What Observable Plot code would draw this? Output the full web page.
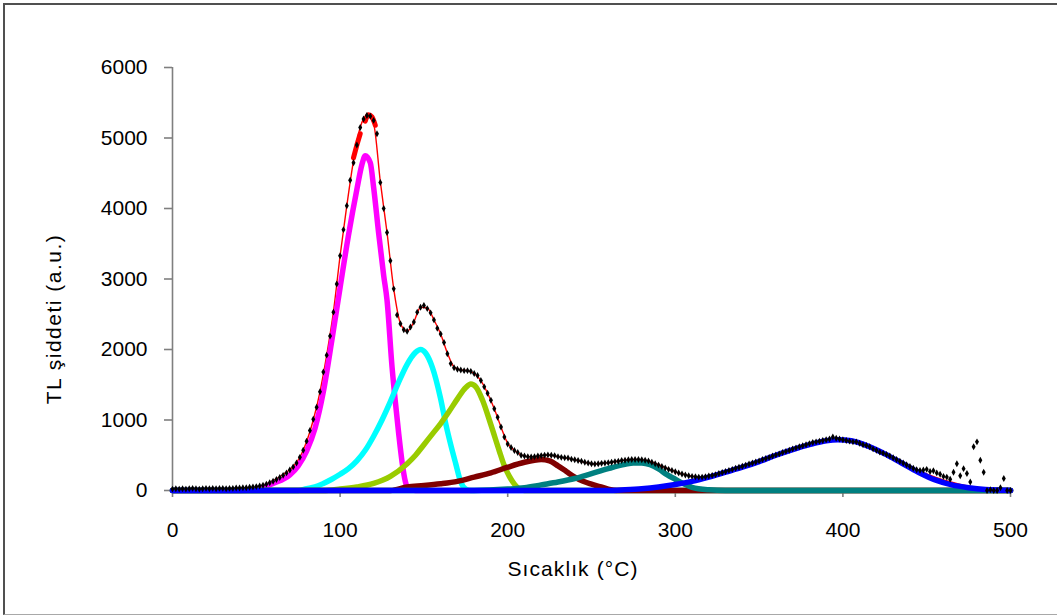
<!DOCTYPE html>
<html>
<head>
<meta charset="utf-8">
<script src="https://cdn.jsdelivr.net/npm/d3@7"></script>
<script src="https://cdn.jsdelivr.net/npm/@observablehq/plot@0.6"></script>
<style>
html, body { margin: 0; padding: 0; background: #fff; }
#chart { position: relative; width: 1057px; height: 616px; overflow: hidden; }
#frame { position: absolute; left: 3px; top: 3px; width: 1070px; height: 612px; box-sizing: border-box;
  border-left: 2px solid #505050; border-top: 2px solid #505050; border-bottom: 1.5px solid #a8a8a8; pointer-events: none; }
</style>
</head>
<body>
<div id="chart"><div id="frame"></div></div>
<script>
// ---- text ----
const xLabel = "Sıcaklık (°C)";
const yLabel = "TL şiddeti (a.u.)";
const xTicks = [0, 100, 200, 300, 400, 500];
const yTicks = [0, 1000, 2000, 3000, 4000, 5000, 6000];

// ---- measured glow curve (every 2 °C, 0..500) ----
const measT = d3.range(0, 501, 2);
const measV = [
  20,25,20,25,20,25,30,25,20,25,
  30,25,30,25,30,30,25,30,30,35,
  35,40,40,45,50,55,65,75,90,110,
  130,155,185,215,250,290,335,390,470,570,
  700,850,1010,1180,1400,1680,1920,2190,2530,2930,
  3330,3700,4040,4400,4650,4900,5150,5270,5320,5310,
  5250,5060,4370,4000,3660,3260,2860,2490,2364,2280,
  2260,2320,2390,2530,2600,2624,2580,2520,2420,2300,
  2220,2100,1940,1800,1740,1720,1710,1700,1700,1690,
  1660,1630,1560,1470,1380,1280,1160,1040,900,760,
  660,610,567,540,500,490,480,475,480,490,
  495,500,505,500,495,480,470,465,460,445,
  435,425,415,400,390,380,375,380,385,390,
  395,400,410,415,425,430,435,440,440,440,
  435,430,420,400,380,360,340,320,300,285,
  265,250,235,220,210,200,195,190,190,195,
  205,215,225,240,255,270,285,300,315,330,
  345,360,375,390,405,420,440,455,470,490,
  505,520,540,555,570,590,605,620,635,650,
  665,680,690,700,710,720,730,760,740,730,
  720,710,700,690,690,670,650,640,620,590,
  570,545,530,510,490,465,440,415,390,365,
  340,315,295,285,290,300,270,280,250,230,
  200,190,160,260,380,210,310,240,120,620,
  690,430,260,0,10,0,0,40,170,0,
  0
];

// ---- total fit (red) ----
const fitT = [0,40,44,48,52,56,60,64,68,72,76,80,84,88,92,96,100,104,108,112,116,120,124,128,132,136,140,144,148,152,156,160,164,168,172,176,180,184,188,192,196,200,204,208,212,216,220,224,228,232,236,240,244,248,252,256,260,264,268,272,276,280,284,288,292,296,300,304,308,312,316,320,330,340,360,380,400,420,440,460,480,500];
const fitV = [0,10,20,35,60,95,140,195,260,340,470,690,1000,1400,1920,2530,3330,4040,4680,5150,5320,5200,4380,3660,2860,2370,2260,2390,2600,2590,2420,2220,1950,1750,1710,1700,1660,1560,1380,1160,900,670,570,505,480,480,495,505,490,470,455,435,410,390,378,385,395,410,425,435,440,435,420,385,345,305,265,235,210,195,190,200,270,345,505,660,715,575,335,150,40,0];
// thick red fit segments near the main maximum
const fitThickAT = [108, 110, 112];
const fitThickAV = [4720, 4900, 5060];
const fitThickBT = [115, 117, 119, 121];
const fitThickBV = [5240, 5330, 5300, 5180];

// ---- deconvoluted components ----
const magentaT = [0,40,50,60,70,75,80,85,90,95,100,105,110,113,115,118,120,123,126,128,131,133,135,137,139,141,145,500];
const magentaV = [0,0,15,100,220,350,560,880,1400,2120,2880,3620,4270,4620,4750,4650,4300,3650,3050,2700,1750,1250,800,400,120,20,0,0];
const cyanT = [0,75,80,85,90,95,100,105,110,115,120,125,130,135,140,145,148,151,155,160,163,166,169,172,175,178,500];
const cyanV = [0,0,25,50,100,160,230,310,420,570,770,1000,1260,1540,1790,1960,2000,1950,1750,1300,950,650,380,120,20,0,0];
const greenT = [0,90,100,110,120,130,140,145,150,155,160,165,170,175,178,181,185,190,195,198,201,204,207,210,500];
const greenV = [0,0,20,50,100,200,380,500,650,800,950,1120,1300,1460,1510,1470,1280,930,560,350,200,90,20,0,0];
const maroonT = [0,130,140,150,160,170,180,190,200,210,215,220,225,230,235,240,245,250,255,260,265,500];
const maroonV = [0,0,50,70,95,130,190,250,330,400,425,440,420,350,270,190,130,90,55,20,0,0];
const tealT = [0,180,200,210,220,230,240,250,260,270,275,280,285,290,295,300,305,310,320,330,500];
const tealV = [0,0,20,40,80,120,170,240,310,370,390,390,365,305,225,160,95,45,10,0,0];
const blueT = [0,260,270,280,290,300,310,320,330,340,350,360,370,380,390,397,405,415,425,435,445,455,465,475,485,495,500];
const blueV = [0,0,10,25,50,85,130,190,260,330,410,500,580,650,705,720,705,630,520,390,260,150,80,40,15,5,0];

const componentNames = ["magenta", "cyan", "green", "maroon", "teal", "blue"];
const componentColors = ["#ff00ff", "#00ffff", "#99cc00", "#800000", "#008080", "#0000ff"];
const componentT = [magentaT, cyanT, greenT, maroonT, tealT, blueT];
const componentV = [magentaV, cyanV, greenV, maroonV, tealV, blueV];

const rows = (T, V) => T.map((t, i) => ({t, v: V[i]}));
const meas = rows(measT, measV);
const fit = rows(fitT, fitV);

const compMarks = componentNames.map((n, k) =>
  Plot.line(rows(componentT[k], componentV[k]), {x: "t", y: "v", stroke: componentColors[k], strokeWidth: 5.5, curve: "monotone-x", strokeLinejoin: "round", strokeLinecap: "round"})
);

const svg = Plot.plot({
  width: 1057, height: 616,
  marginLeft: 172, marginRight: 47, marginTop: 67, marginBottom: 126,
  x: {domain: [0, 500]},
  y: {domain: [0, 6000]},
  style: {fontFamily: "'Liberation Sans', Arial, sans-serif", fontSize: "21px", color: "#000", background: "transparent", overflow: "visible"},
  marks: [
    Plot.ruleX([0], {stroke: "#7f7f7f", strokeWidth: 1.6}),
    Plot.ruleY([0], {stroke: "#7f7f7f", strokeWidth: 1.6}),
    Plot.axisX({ticks: xTicks, tickSize: 7, tickPadding: 25, stroke: "#7f7f7f", strokeWidth: 1.6, fill: "#000", label: null, tickFormat: d3.format("d")}),
    Plot.axisY({ticks: yTicks, tickSize: 8, tickPadding: 17, stroke: "#7f7f7f", strokeWidth: 1.6, fill: "#000", label: null, tickFormat: d3.format("d")}),
    Plot.line(fit, {x: "t", y: "v", stroke: "#ff0000", strokeWidth: 1.4, curve: "monotone-x"}),
    Plot.line(rows(fitThickAT, fitThickAV), {x: "t", y: "v", stroke: "#ff0000", strokeWidth: 5, strokeLinecap: "round"}),
    Plot.line(rows(fitThickBT, fitThickBV), {x: "t", y: "v", stroke: "#ff0000", strokeWidth: 5, strokeLinecap: "round", curve: "monotone-x"}),
    ...compMarks,
    Plot.dot(meas, {x: "t", y: "v", r: 2.1, fill: "#000", symbol: "diamond"})
  ]
});

const s = d3.select(svg);
s.append("text")
  .attr("x", 573).attr("y", 570)
  .attr("text-anchor", "middle").attr("dominant-baseline", "middle")
  .style("font-size", "21px").style("letter-spacing", "1.1px").attr("fill", "#000")
  .text(xLabel);
s.append("text")
  .attr("transform", "translate(55,319) rotate(-90)")
  .attr("text-anchor", "middle").attr("dominant-baseline", "middle")
  .style("font-size", "21px").style("letter-spacing", "1.5px").attr("fill", "#000")
  .text(yLabel);

svg.style.position = "absolute";
svg.style.left = "0px";
svg.style.top = "0px";
document.getElementById("chart").prepend(svg);
</script>
</body>
</html>
